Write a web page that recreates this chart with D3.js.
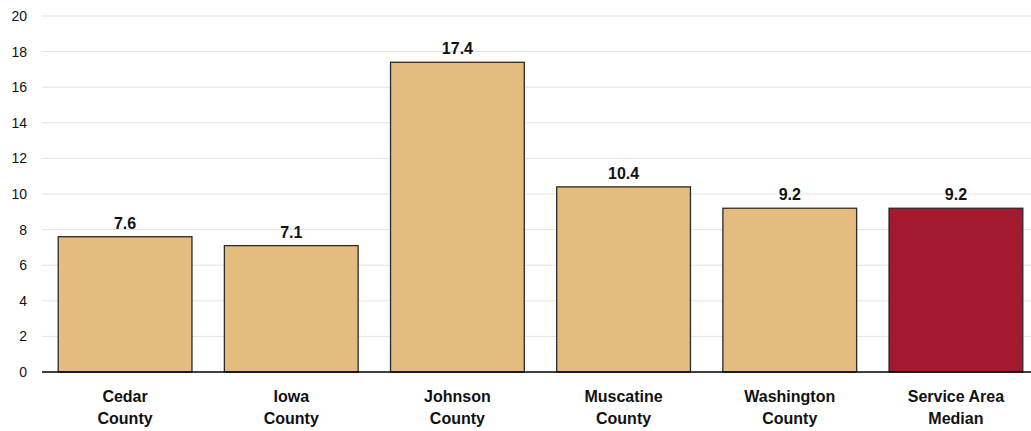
<!DOCTYPE html>
<html>
<head>
<meta charset="utf-8">
<script src="https://cdn.jsdelivr.net/npm/d3@7"></script>
<style>
  html, body { margin: 0; padding: 0; background: #fff; }
  svg { display: block; font-family: "Liberation Sans Narrow", "Arial Narrow", "Liberation Sans", Arial, sans-serif; }
</style>
</head>
<body>
<svg id="chart" width="1031" height="431"></svg>
<script>
// Category names (each split onto two lines) and their values
const categories = [
  ["Cedar", "County"],
  ["Iowa", "County"],
  ["Johnson", "County"],
  ["Muscatine", "County"],
  ["Washington", "County"],
  ["Service Area", "Median"]
];
const values = [7.6, 7.1, 17.4, 10.4, 9.2, 9.2];
const yTicks = [0, 2, 4, 6, 8, 10, 12, 14, 16, 18, 20];
const barColors = ["#E4BC7F", "#E4BC7F", "#E4BC7F", "#E4BC7F", "#E4BC7F", "#A3192F"];

const svg = d3.select("#chart");
const plotLeft = 42, plotRight = 1039, plotTop = 16, plotBottom = 372;

const x = d3.scaleBand()
  .domain(d3.range(categories.length))
  .range([plotLeft, plotRight])
  .paddingInner(0.195)
  .paddingOuter(0.0975);

const y = d3.scaleLinear().domain([0, 20]).range([plotBottom, plotTop]);

// Horizontal gridlines
svg.append("g")
  .selectAll("line")
  .data(yTicks.filter(t => t > 0))
  .join("line")
  .attr("x1", plotLeft).attr("x2", 1031)
  .attr("y1", d => y(d)).attr("y2", d => y(d))
  .attr("stroke", "#e3e3e3").attr("stroke-width", 1);

// Y axis tick labels
const yAxis = svg.append("g")
  .attr("transform", `translate(${plotLeft},0)`)
  .call(d3.axisLeft(y).tickValues(yTicks).tickSize(0).tickPadding(15));
yAxis.select(".domain").remove();
yAxis.selectAll("text").attr("font-size", 14).attr("fill", "#111").style("font-family", "inherit");

// Bars
svg.append("g")
  .selectAll("rect")
  .data(values)
  .join("rect")
  .attr("x", (d, i) => x(i))
  .attr("width", x.bandwidth())
  .attr("y", d => y(d))
  .attr("height", d => y(0) - y(d))
  .attr("fill", (d, i) => barColors[i])
  .attr("stroke", "#2a2a2a")
  .attr("stroke-width", 1.3);

// Baseline
svg.append("line")
  .attr("x1", plotLeft).attr("x2", 1031)
  .attr("y1", y(0)).attr("y2", y(0))
  .attr("stroke", "#000").attr("stroke-width", 1.5);

// Value labels above bars
svg.append("g")
  .selectAll("text")
  .data(values)
  .join("text")
  .attr("x", (d, i) => x(i) + x.bandwidth() / 2)
  .attr("y", d => y(d) - 8)
  .attr("text-anchor", "middle")
  .attr("font-size", 16)
  .attr("font-weight", "bold")
  .attr("fill", "#111")
  .text(d => d.toFixed(1));

// Category labels under the axis
const cat = svg.append("g")
  .selectAll("text")
  .data(categories)
  .join("text")
  .attr("text-anchor", "middle")
  .attr("font-size", 16)
  .attr("font-weight", "bold")
  .attr("fill", "#111");
cat.selectAll("tspan")
  .data((d, i) => d.map(line => ({ line, i })))
  .join("tspan")
  .attr("x", d => x(d.i) + x.bandwidth() / 2)
  .attr("y", (d, j) => 402 + j * 22)
  .text(d => d.line);
</script>
</body>
</html>
